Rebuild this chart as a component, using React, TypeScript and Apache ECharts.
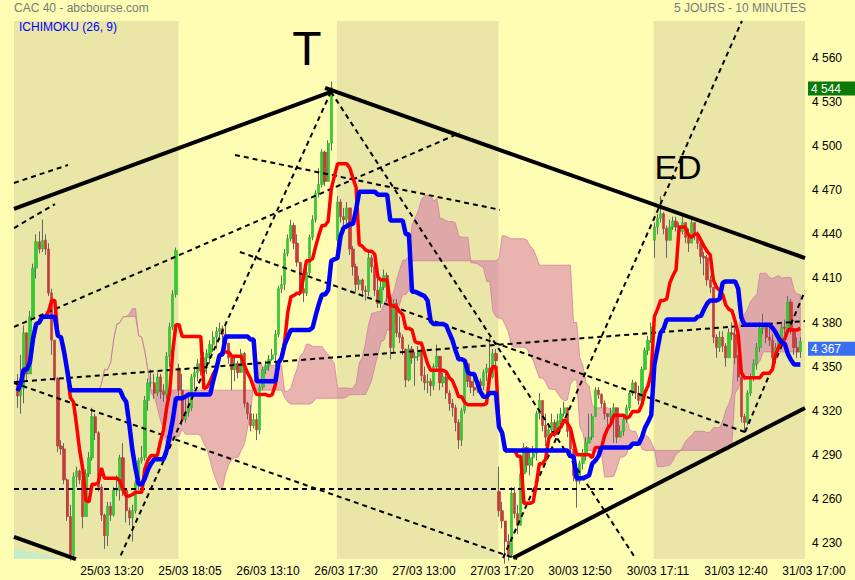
import { useEffect, useRef } from 'react';
import * as echarts from 'echarts';

// ---------- DATA (10-minute candles, index = bar number) ----------
const CLOSE: (number | null)[] = [
  // 25/03
  4330,4335,4373,4345,4384,4417,4435,4430,4436,4430,
  4400,4368,4342,4296,4294,4273,4248,4222,4275,4279,
  4273,4248,4277,4288,4316,4305,4268,4249,4235,4255,
  4249,4266,4266,4288,4266,4252,4247,4252,4271,4286,
  4288,4327,4339,4339,4332,4343,4333,4331,4357,4377,
  4399,4429,
  // 26/03
  4334,4314,4319,4322,4343,4346,4352,4347,4356,4359,
  4365,4370,4374,4376,4372,4366,4356,4348,4352,4346,
  4359,4325,4318,4310,4314,4307,4336,4348,4351,4355,
  4358,4372,4403,4406,4427,4437,4446,4434,4421,4403,
  4400,4414,4438,4450,4468,4474,4496,4476,4502,4540,
  null,
  // 27/03
  4462,4452,4450,4458,4430,4418,4406,4409,4402,4401,
  4424,4418,4402,4393,4404,4412,4397,4363,4393,4373,
  4370,4362,4341,4362,4356,4357,4360,4344,4339,4340,
  4337,4350,4357,4339,4343,4332,4325,4322,4312,4300,
  4320,4352,4340,4336,4334,4340,4337,4346,4349,4343,
  4359,4354,
  // 30/03
  4252,4245,4231,4222,4264,4250,4242,4277,4295,4283,
  4288,4291,4318,4327,4310,4302,4307,4312,4306,4313,
  4318,4322,4306,4294,4276,4272,4284,4291,4298,4302,
  4316,4334,4331,4325,4318,4316,4318,4322,4302,4306,
  4314,4322,4332,4339,4332,4327,4348,4361,4368,4377,
  // 31/03
  4445,4451,4454,4444,4436,4445,4449,4445,4442,4448,
  4438,4434,4448,4441,4434,4425,4424,4409,4404,4370,
  4363,4370,4364,4356,4373,4372,4356,4343,4316,4312,
  4332,4343,4352,4363,4376,4378,4370,4368,4356,4363,
  4368,4377,4376,4394,4375,4363,4360,4367,
];

const HIGH: (number | null)[] = [
  4345,4358,4378,4370,4388,4420,4440,4442,4450,4440,
  4434,4403,4368,4343,4300,4298,4274,4256,4278,4282,
  4280,4275,4280,4292,4322,4318,4306,4270,4250,4258,
  4258,4268,4276,4290,4298,4266,4254,4256,4273,4288,
  4296,4330,4342,4348,4345,4346,4345,4338,4360,4380,
  4402,4431,
  4352,4345,4330,4330,4345,4350,4355,4356,4360,4362,
  4368,4374,4377,4380,4378,4378,4365,4358,4356,4354,
  4362,4360,4326,4324,4318,4318,4338,4350,4354,4358,
  4362,4375,4405,4412,4430,4440,4450,4448,4440,4420,
  4410,4418,4440,4453,4470,4485,4498,4497,4504,4544,
  null,
  4466,4464,4458,4462,4458,4432,4420,4412,4410,4405,
  4428,4426,4420,4410,4408,4416,4414,4398,4396,4396,
  4384,4372,4362,4365,4364,4360,4364,4362,4350,4345,
  4342,4352,4365,4356,4346,4346,4334,4328,4324,4314,
  4322,4354,4350,4345,4342,4342,4342,4348,4352,4370,
  4362,4362,
  4282,4258,4242,4236,4268,4268,4256,4280,4298,4296,
  4292,4296,4320,4332,4326,4318,4310,4318,4314,4318,
  4322,4326,4320,4308,4290,4280,4286,4294,4302,4318,
  4318,4336,4336,4332,4327,4318,4322,4325,4318,4310,
  4316,4324,4334,4341,4340,4337,4350,4363,4371,4380,
  4448,4454,4466,4455,4446,4450,4452,4452,4448,4452,
  4448,4444,4452,4448,4442,4434,4428,4426,4412,4404,
  4372,4374,4374,4366,4376,4380,4376,4358,4332,4318,
  4334,4345,4355,4366,4380,4386,4380,4378,4372,4366,
  4372,4380,4382,4398,4396,4376,4370,4370,
];

const LOW: (number | null)[] = [
  4322,4318,4325,4340,4345,4384,4410,4427,4428,4426,
  4398,4358,4340,4292,4290,4270,4245,4218,4220,4268,
  4270,4240,4248,4275,4286,4300,4265,4245,4226,4228,
  4245,4248,4262,4259,4262,4244,4242,4231,4250,4266,
  4284,4286,4320,4336,4328,4330,4328,4326,4328,4350,
  4375,4397,
  4330,4310,4312,4316,4320,4335,4340,4344,4340,4345,
  4352,4360,4362,4368,4366,4362,4352,4334,4340,4342,
  4346,4322,4314,4306,4308,4300,4304,4334,4345,4347,
  4354,4350,4370,4400,4402,4425,4435,4430,4418,4398,
  4394,4398,4412,4436,4448,4465,4472,4473,4476,4497,
  null,
  4432,4448,4445,4446,4426,4412,4400,4402,4398,4395,
  4398,4414,4398,4390,4390,4402,4394,4355,4360,4370,
  4366,4358,4336,4340,4352,4337,4354,4340,4334,4332,
  4330,4334,4348,4334,4336,4328,4320,4316,4306,4294,
  4296,4318,4336,4332,4330,4332,4334,4334,4340,4340,
  4342,4350,
  4248,4240,4216,4218,4220,4247,4236,4242,4270,4278,
  4276,4282,4286,4314,4306,4296,4298,4304,4302,4304,
  4310,4316,4302,4290,4272,4254,4270,4280,4286,4298,
  4300,4316,4328,4322,4314,4305,4310,4298,4298,4302,
  4303,4312,4320,4330,4328,4324,4326,4348,4358,4366,
  4424,4440,4448,4440,4424,4436,4443,4442,4438,4440,
  4434,4428,4434,4436,4430,4420,4412,4405,4400,4366,
  4356,4360,4360,4350,4356,4368,4352,4340,4312,4305,
  4310,4330,4340,4348,4360,4372,4366,4364,4352,4354,
  4360,4366,4372,4374,4372,4358,4356,4356,
];

const DAY_STARTS = [0, 52, 103, 155, 205];
const DAY_OPENS = [4340, 4349, 4436, 4265, 4436];
const SHADED_DAYS = [0, 2, 4];

const X_TICK_LABELS = [
  '25/03 13:20', '25/03 18:05', '26/03 13:10', '26/03 17:30', '27/03 13:00',
  '27/03 17:20', '30/03 12:50', '30/03 17:11', '31/03 12:40', '31/03 17:00',
];
const Y_MIN_TICK = 4230;
const Y_MAX_TICK = 4560;
const Y_STEP = 30;

// trend lines: [barIndex1, price1, barIndex2, price2]
const THICK_LINES = [
  [-1.13, 4457.3, 100.9, 4536.9],
  [99.0, 4539.6, 253.5, 4423.9],
  [159.5, 4219.8, 253.5, 4321.9],
  [-1.13, 4234.1, 18.8, 4219.1],
];
const DOTTED_LINES = [
  [-1.13, 4266.7, 192.3, 4266.7],
  [-1.13, 4339.5, 253.5, 4381.0],
  [-1.13, 4377.0, 142.4, 4509.0],
  [-1.13, 4338.9, 160.8, 4219.1],
  [100.9, 4537.0, 32.7, 4219.1],
  [100.9, 4537.0, 199.1, 4219.1],
  [-1.13, 4475.0, 16.26, 4487.2],
  [-1.13, 4444.3, 12.07, 4460.6],
  [70.0, 4494.0, 155.3, 4456.7],
  [71.6, 4428.0, 234.2, 4305.5],
  [156.3, 4219.8, 233.2, 4585.2],
  [234.2, 4305.5, 253.5, 4401.5],
];
// light patch under the lower-left trend line
const CORNER_PATCH = [[-1.13, 4226.6], [14.6, 4219.1]];

const ICHI_TENKAN = 9;
const ICHI_KIJUN = 26;
const ICHI_SPAN_B = 52;

// axis windows (bar index / price)
const X_MIN = -1.13;
const X_MAX = 253.5;
const Y_MIN = 4219.11;
const Y_MAX = 4585.18;

const FONT = 'Liberation Sans, Arial, sans-serif';

export default function App() {
  const ref = useRef<HTMLDivElement>(null);

  useEffect(() => {
    const chart = echarts.init(ref.current!, null, { renderer: 'svg' });
    const n = CLOSE.length;

    const opens: (number | null)[] = [];
    let prev: number | null = null;
    for (let i = 0; i < n; i++) {
      const c = CLOSE[i];
      if (c == null) { opens.push(null); continue; }
      const d = DAY_STARTS.indexOf(i);
      const o = d >= 0 ? DAY_OPENS[d] : (prev as number);
      opens.push(o);
      prev = c;
    }
    const hi: (number | null)[] = [];
    const lo: (number | null)[] = [];
    for (let i = 0; i < n; i++) {
      const c = CLOSE[i];
      if (c == null) { hi.push(null); lo.push(null); continue; }
      const o = opens[i] as number;
      hi.push(Math.max(HIGH[i] as number, o, c));
      lo.push(Math.min(LOW[i] as number, o, c));
    }

    const wicks: number[][] = [];
    const bodies: number[][] = [];
    for (let i = 0; i < n; i++) {
      const c = CLOSE[i];
      if (c == null) continue;
      const o = opens[i] as number;
      wicks.push([i, o, c, lo[i] as number, hi[i] as number]);
      bodies.push([i, o, c, Math.min(o, c), Math.max(o, c)]);
    }

    const mid = (i: number, len: number) => {
      let h = -Infinity, l = Infinity;
      for (let j = Math.max(0, i - len + 1); j <= i; j++) {
        if (CLOSE[j] == null) continue;
        h = Math.max(h, hi[j] as number);
        l = Math.min(l, lo[j] as number);
      }
      return (h + l) / 2;
    };

    const tenkan: number[][] = [];
    const kijun: number[][] = [];
    const cloud: number[][] = [];
    for (let i = 0; i < n; i++) {
      if (CLOSE[i] == null) continue;
      const t = mid(i, ICHI_TENKAN);
      const k = mid(i, ICHI_KIJUN);
      tenkan.push([i, t]);
      kijun.push([i, k]);
      const s = i + ICHI_KIJUN;
      if (s < n) cloud.push([s, (t + k) / 2, mid(i, ICHI_SPAN_B)]);
    }

    let maxHigh = -Infinity;
    for (const h of hi) if (h != null && h > maxHigh) maxHigh = h;
    let lastClose = 0;
    for (const c of CLOSE) if (c != null) lastClose = c;

    const bands = SHADED_DAYS.map((d) => {
      const a = d === 0 ? X_MIN : DAY_STARTS[d] - 0.2;
      const b = d + 1 < DAY_STARTS.length ? DAY_STARTS[d + 1] - 0.2 : X_MAX;
      return [{ xAxis: a }, { xAxis: b }];
    });

    const fmtPrice = (v: number) => {
      const t = Math.floor(v / 1000);
      const r = String(Math.round(v) % 1000).padStart(3, '0');
      return `${t} ${r}`;
    };

    const lineSeries = (pts: number[][], style: any, z: number, name: string, extra: any = {}) => ({
      name,
      type: 'line',
      xAxisIndex: 0,
      yAxisIndex: 0,
      data: pts,
      showSymbol: false,
      symbol: 'none',
      silent: true,
      clip: true,
      z,
      lineStyle: style,
      ...extra,
    });

    const option: any = {
      animation: false,
      backgroundColor: '#fffcb4',
      textStyle: { fontFamily: FONT },
      grid: [
        { left: 14, right: 50, top: 21, bottom: 21 },
        { left: 34, right: 41, top: 21, bottom: 21 },
        { left: 14, right: 50, top: 58, bottom: 37 },
      ],
      xAxis: [
        { gridIndex: 0, type: 'value', min: X_MIN, max: X_MAX, show: false },
        {
          gridIndex: 1, type: 'value', min: 0, max: X_TICK_LABELS.length, interval: 1,
          axisLine: { show: false }, axisTick: { show: false }, splitLine: { show: false },
          axisLabel: {
            margin: 6, color: '#000', fontSize: 12, fontFamily: FONT,
            formatter: (v: number) => (v >= 1 ? X_TICK_LABELS[Math.round(v) - 1] : ''),
          },
        },
        { gridIndex: 2, type: 'value', min: 0, max: 1, show: false },
      ],
      yAxis: [
        { gridIndex: 0, type: 'value', min: Y_MIN, max: Y_MAX, show: false },
        { gridIndex: 1, type: 'value', min: 0, max: 1, show: false },
        {
          gridIndex: 2, type: 'value', position: 'right', min: Y_MIN_TICK, max: Y_MAX_TICK, interval: Y_STEP,
          axisLine: { show: false }, axisTick: { show: false }, splitLine: { show: false },
          axisLabel: { margin: 7, color: '#000', fontSize: 12, fontFamily: FONT, formatter: fmtPrice },
        },
      ],
      series: [
        {
          name: 'cloud',
          type: 'custom',
          xAxisIndex: 0,
          yAxisIndex: 0,
          data: cloud,
          encode: { x: 0, y: [1, 2] },
          clip: true,
          silent: true,
          z: 2,
          renderItem: (params: any, api: any) => {
            if (params.dataIndex !== 0) return null;
            const top = cloud.map((p) => api.coord([p[0], p[1]]));
            const bot = cloud.map((p) => api.coord([p[0], p[2]])).reverse();
            return {
              type: 'polygon',
              shape: { points: top.concat(bot) },
              style: { fill: 'rgba(212,112,170,0.52)', stroke: 'rgba(200,105,160,0.6)', lineWidth: 1 },
            };
          },
          markArea: {
            silent: true,
            itemStyle: { color: '#e9e6a7', opacity: 1 },
            data: bands,
          },
        },
        lineSeries(CORNER_PATCH, { width: 0, opacity: 0 }, 2, 'patch', {
          areaStyle: { color: '#c6ecc8', opacity: 1, origin: 'start' },
        }),
        {
          name: 'wicks',
          type: 'candlestick',
          xAxisIndex: 0,
          yAxisIndex: 0,
          data: wicks,
          barWidth: 1,
          silent: true,
          z: 3,
          itemStyle: { color: '#666', color0: '#666', borderColor: '#666', borderColor0: '#666', borderWidth: 1 },
        },
        {
          name: 'bodies',
          type: 'candlestick',
          xAxisIndex: 0,
          yAxisIndex: 0,
          data: bodies,
          barWidth: 2.8,
          silent: true,
          z: 3,
          itemStyle: { color: '#33cc33', color0: '#cc3b3b', borderColor: '#2ab52a', borderColor0: '#bb3434', borderWidth: 0.6 },
          markLine: {
            silent: true,
            symbol: 'none',
            lineStyle: { color: 'transparent', width: 0 },
            label: {
              show: true, position: 'end', distance: 3, color: '#fff', fontSize: 12, fontFamily: FONT,
              padding: [1, 14, 1, 3], lineHeight: 12, verticalAlign: 'top',
              formatter: (p: any) => fmtPrice(p.value),
            },
            data: [
              { yAxis: maxHigh, label: { backgroundColor: '#0b7a0b' } },
              { yAxis: lastClose, label: { backgroundColor: '#3a6ef2' } },
            ],
          },
        },
        ...DOTTED_LINES.map((l, k) =>
          lineSeries([[l[0], l[1]], [l[2], l[3]]], { color: '#000', width: 2, type: [5, 4] }, 4, 'dot' + k)),
        lineSeries(tenkan, { color: '#ff0000', width: 3.5 }, 5, 'tenkan'),
        lineSeries(kijun, { color: '#0000ff', width: 4.5 }, 5, 'kijun'),
        ...THICK_LINES.map((l, k) =>
          lineSeries([[l[0], l[1]], [l[2], l[3]]], { color: '#000', width: 4 }, 6, 'thick' + k)),
      ],
      graphic: [
        { type: 'text', left: 14, top: 2, z: 10, style: { text: 'CAC 40 - abcbourse.com', fill: '#7a7a7a', fontSize: 12, fontFamily: FONT } },
        { type: 'text', right: 49, top: 2, z: 10, style: { text: '5 JOURS - 10 MINUTES', fill: '#7a7a7a', fontSize: 12, fontFamily: FONT } },
        { type: 'text', left: 19, top: 21, z: 10, style: { text: 'ICHIMOKU (26, 9)', fill: '#0000ff', fontSize: 12, fontFamily: FONT } },
        { type: 'text', x: 307, y: 48, z: 10, style: { text: 'T', fill: '#000', fontSize: 48, fontFamily: FONT, align: 'center', verticalAlign: 'middle' } },
        { type: 'text', x: 678, y: 167, z: 10, style: { text: 'ED', fill: '#000', fontSize: 34, fontFamily: FONT, align: 'center', verticalAlign: 'middle' } },
      ],
    };

    chart.setOption(option);
    return () => chart.dispose();
  }, []);

  return <div ref={ref} style={{ position: 'fixed', left: 0, top: 0, width: 855, height: 580 }} />;
}
